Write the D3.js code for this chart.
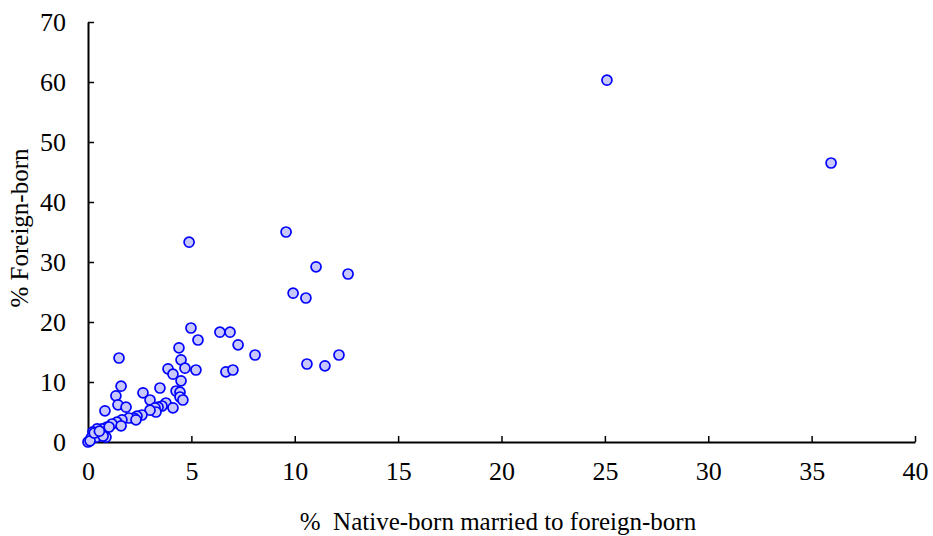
<!DOCTYPE html>
<html>
<head>
<meta charset="utf-8">
<script src="https://cdn.jsdelivr.net/npm/d3@7"></script>
<style>
  body { margin: 0; background: #fff; }
  text { font-family: "Liberation Serif", "Times New Roman", serif; }
</style>
</head>
<body>
<svg id="chart" width="933" height="536"></svg>
<script>
// % native-born married to foreign-born
var nativeMarried = [25.10, 35.94, 4.89, 9.58, 11.03, 12.58, 9.92, 10.54, 4.98, 6.38,
	6.87, 5.32, 7.26, 8.08, 12.14, 10.59, 11.46, 4.40, 1.50, 4.50,
	3.87, 4.69, 5.22, 6.67, 7.01, 4.11, 4.50, 1.60, 3.48, 2.66,
	4.26, 4.45, 1.35, 3.00, 4.45, 4.59, 1.45, 1.84, 0.82, 3.77,
	3.58, 3.39, 4.11, 3.24, 3.29, 3.00, 2.61, 2.37, 2.22, 1.98,
	1.64, 1.40, 1.16, 0.92, 0.68, 0.44, 0.24, 0.53, 0.87, 0.15,
	0.00, 1.60, 1.02, 0.39, 2.32, 0.10, 0.73, 0.30, 0.55];
// % foreign-born
var foreignBorn = [60.3, 46.5, 33.3, 35.0, 29.2, 28.0, 24.8, 24.0, 19.0, 18.3,
	18.3, 17.0, 16.2, 14.5, 14.5, 13.0, 12.7, 15.7, 14.0, 13.7,
	12.2, 12.3, 12.0, 11.7, 12.0, 11.3, 10.2, 9.3, 9.0, 8.2,
	8.5, 8.3, 7.7, 7.0, 7.5, 7.0, 6.2, 5.8, 5.2, 6.5,
	6.0, 5.8, 5.7, 5.7, 5.0, 5.3, 4.5, 4.3, 4.0, 4.0,
	3.7, 3.3, 3.0, 2.5, 2.2, 2.2, 1.7, 1.0, 0.8, 0.7,
	0.0, 2.7, 2.5, 0.8, 3.7, 0.2, 1.0, 1.5, 1.8];

var xTicks = [0, 5, 10, 15, 20, 25, 30, 35, 40];
var yTicks = [0, 10, 20, 30, 40, 50, 60, 70];

// plot edges (window.top is taken, so use a margin object)
var plot = {left: 88, right: 915, top: 22, bottom: 442};

var svg = d3.select("#chart");

var x = d3.scaleLinear().domain([0, 40]).range([plot.left, plot.right]);
var y = d3.scaleLinear().domain([0, 70]).range([plot.bottom, plot.top]);

// axes, ticks pointing inward
var xAxis = svg.append("g")
	.attr("transform", "translate(0," + plot.bottom + ")")
	.call(d3.axisBottom(x).tickValues(xTicks).tickSize(-6).tickPadding(20).tickSizeOuter(0));

var yAxis = svg.append("g")
	.attr("transform", "translate(" + plot.left + ",0)")
	.call(d3.axisLeft(y).tickValues(yTicks).tickSize(-6).tickPadding(22).tickSizeOuter(0));

[xAxis, yAxis].forEach(function(a){
	a.select(".domain").attr("stroke", "#000").attr("stroke-width", 2);
	a.selectAll(".tick line").attr("stroke", "#000").attr("stroke-width", 1.5);
	a.selectAll(".tick text")
		.attr("fill", "#000")
		.style("font-family", "'Liberation Serif', serif")
		.style("font-size", "26px");
});

// points
var points = nativeMarried.map(function(d, i){ return [d, foreignBorn[i]]; });

svg.append("g")
	.selectAll("circle")
	.data(points)
	.enter()
	.append("circle")
	.attr("cx", function(d){ return x(d[0]); })
	.attr("cy", function(d){ return y(d[1]); })
	.attr("r", 5)
	.attr("fill", "#c8c8ff")
	.attr("stroke", "#0000ff")
	.attr("stroke-width", 1.7);

// axis titles
svg.append("text")
	.attr("x", 498)
	.attr("y", 530)
	.attr("text-anchor", "middle")
	.style("font-size", "25px")
	.attr("fill", "#000")
	.attr("xml:space", "preserve")
	.text("%  Native-born married to foreign-born");

svg.append("text")
	.attr("transform", "translate(28,228) rotate(-90)")
	.attr("text-anchor", "middle")
	.style("font-size", "25px")
	.attr("fill", "#000")
	.text("% Foreign-born");
</script>
</body>
</html>
